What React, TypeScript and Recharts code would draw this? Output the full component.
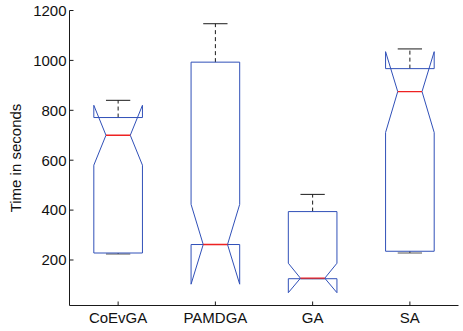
import React from 'react';
import { ComposedChart, Scatter, XAxis, YAxis } from 'recharts';

const categories = ['CoEvGA', 'PAMDGA', 'GA', 'SA'];
const upperWhisker = [840, 1147, 463, 1046];
const q3 = [771, 993, 394, 967];
const notchHigh = [820, 423, 187, 1035];
const median = [700, 262, 127, 875];
const notchLow = [580, 103, 69, 711];
const q1 = [228, 262, 125, 235];
const lowerWhisker = [224, 262, 125, 228];
const yTicks = [200, 400, 600, 800, 1000, 1200];
const xTicks = [1, 2, 3, 4];

const BOX_HALF = 0.25;
const NOTCH_HALF = 0.125;
const CAP_HALF = 0.125;
const BLUE = '#3050b8';
const RED = '#ee2222';
const AXIS = '#1a1a1a';
const FONT = 'Liberation Sans, Arial, Helvetica, sans-serif';

const noShape = () => <g />;

function boxOutline(i: number) {
  const x = i + 1;
  return [
    { x: x - BOX_HALF, y: q1[i] },
    { x: x - BOX_HALF, y: notchLow[i] },
    { x: x - NOTCH_HALF, y: median[i] },
    { x: x - BOX_HALF, y: notchHigh[i] },
    { x: x - BOX_HALF, y: q3[i] },
    { x: x + BOX_HALF, y: q3[i] },
    { x: x + BOX_HALF, y: notchHigh[i] },
    { x: x + NOTCH_HALF, y: median[i] },
    { x: x + BOX_HALF, y: notchLow[i] },
    { x: x + BOX_HALF, y: q1[i] },
    { x: x - BOX_HALF, y: q1[i] },
  ];
}

export default function App() {
  const series: React.ReactNode[] = [];
  categories.forEach((_, i) => {
    const x = i + 1;
    series.push(
      <Scatter key={`uw${i}`} data={[{ x, y: q3[i] }, { x, y: upperWhisker[i] }]} line={{ stroke: AXIS, strokeWidth: 1, strokeDasharray: '4 3' }} lineType="joint" shape={noShape} isAnimationActive={false} />,
      <Scatter key={`lw${i}`} data={[{ x, y: lowerWhisker[i] }, { x, y: q1[i] }]} line={{ stroke: AXIS, strokeWidth: 1, strokeDasharray: '4 3' }} lineType="joint" shape={noShape} isAnimationActive={false} />,
      <Scatter key={`uc${i}`} data={[{ x: x - CAP_HALF, y: upperWhisker[i] }, { x: x + CAP_HALF, y: upperWhisker[i] }]} line={{ stroke: AXIS, strokeWidth: 1 }} lineType="joint" shape={noShape} isAnimationActive={false} />,
      <Scatter key={`lc${i}`} data={[{ x: x - CAP_HALF, y: lowerWhisker[i] }, { x: x + CAP_HALF, y: lowerWhisker[i] }]} line={{ stroke: '#555', strokeWidth: 1 }} lineType="joint" shape={noShape} isAnimationActive={false} />,
      <Scatter key={`box${i}`} data={boxOutline(i)} line={{ stroke: BLUE, strokeWidth: 1 }} lineType="joint" shape={noShape} isAnimationActive={false} />,
      <Scatter key={`med${i}`} data={[{ x: x - NOTCH_HALF, y: median[i] }, { x: x + NOTCH_HALF, y: median[i] }]} line={{ stroke: RED, strokeWidth: 1.3 }} lineType="joint" shape={noShape} isAnimationActive={false} />
    );
  });

  const tickStyle = { fontSize: 15, fill: '#111', fontFamily: FONT };

  return (
    <div style={{ position: 'absolute', left: 0, top: 0 }}>
      <ComposedChart width={463} height={331} margin={{ top: 10.5, right: 4.5, bottom: 0, left: 0 }}>
        <XAxis
          xAxisId={0}
          type="number"
          dataKey="x"
          domain={[0.5, 4.5]}
          ticks={xTicks}
          tickFormatter={(v: number) => categories[v - 1] ?? ''}
          allowDataOverflow
          height={25.5}
          tickSize={-4}
          tickMargin={11}
          tick={tickStyle}
          stroke={AXIS}
          tickLine={{ stroke: AXIS }}
          axisLine={{ stroke: AXIS, strokeWidth: 1 }}
          interval={0}
        />
        <XAxis
          xAxisId="top"
          orientation="top"
          type="number"
          domain={[0.5, 4.5]}
          ticks={xTicks}
          allowDataOverflow
          height={0}
          tickSize={-4}
          tick={noShape}
          stroke={AXIS}
          axisLine={{ stroke: AXIS, strokeWidth: 1 }}
        />
        <YAxis
          yAxisId={0}
          type="number"
          dataKey="y"
          domain={[17.6, 1200]}
          ticks={yTicks}
          allowDataOverflow
          width={69.5}
          tickSize={-4}
          tickMargin={7}
          tick={tickStyle}
          stroke={AXIS}
          axisLine={{ stroke: AXIS, strokeWidth: 1 }}
          interval={0}
          label={{ value: 'Time in seconds', angle: -90, position: 'insideLeft', offset: 16, style: { fontSize: 15, fill: '#111', fontFamily: FONT, textAnchor: 'middle' } }}
        />
        <YAxis
          yAxisId="right"
          orientation="right"
          type="number"
          domain={[17.6, 1200]}
          ticks={yTicks}
          allowDataOverflow
          width={0}
          tickSize={-4}
          tick={noShape}
          stroke={AXIS}
          axisLine={{ stroke: AXIS, strokeWidth: 1 }}
        />
        {series}
      </ComposedChart>
    </div>
  );
}
